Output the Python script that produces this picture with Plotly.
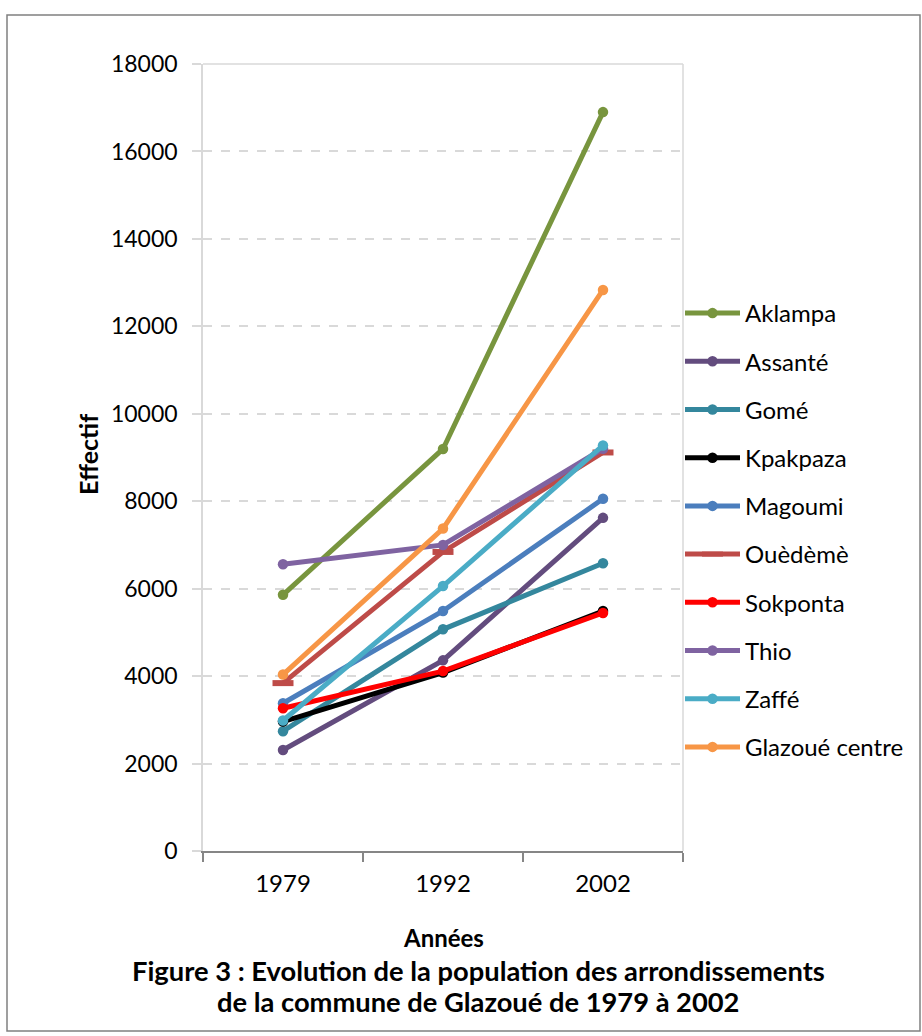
import plotly.graph_objects as go

W, H = 922, 1036

years = ["1979", "1992", "2002"]
series_names = ["Aklampa", "Assanté", "Gomé", "Kpakpaza", "Magoumi",
                "Ouèdèmè", "Sokponta", "Thio", "Zaffé", "Glazoué centre"]
aklampa = [5860, 9195, 16900]
assante = [2310, 4360, 7620]
gome = [2740, 5070, 6580]
kpakpaza = [2960, 4080, 5490]
magoumi = [3380, 5490, 8055]
ouedeme = [3840, 6840, 9115]
sokponta = [3265, 4115, 5445]
thio = [6560, 7000, 9200]
zaffe = [2985, 6060, 9275]
glazoue = [4035, 7375, 12832]
values = [aklampa, assante, gome, kpakpaza, magoumi,
          ouedeme, sokponta, thio, zaffe, glazoue]
colors = ["#78953E", "#634C7E", "#34879D", "#000000", "#4B7EBD",
          "#BE4B48", "#FF0000", "#7F63A1", "#4AACC6", "#F79646"]

FONT = "Lato, 'Open Sans', sans-serif"

def px(x):
    return x / W

def py(y):
    return 1 - y / H

fig = go.Figure()
for name, vals, col in zip(series_names, values, colors):
    if name == "Ouèdèmè":
        marker = dict(symbol="line-ew", size=15, color=col,
                      line=dict(width=6, color=col))
    else:
        marker = dict(symbol="circle", size=10.5, color=col)
    fig.add_trace(go.Scatter(
        x=years, y=vals, name=name, mode="lines+markers",
        line=dict(color=col, width=5), marker=marker,
        legendgroup=name,
    ))

fig.update_layout(
    width=W, height=H,
    margin=dict(l=0, r=0, t=0, b=0),
    paper_bgcolor="white", plot_bgcolor="white",
    font=dict(family=FONT, size=24, color="#000000"),
    showlegend=True,
    legend=dict(x=px(680), y=py(291), xanchor="left", yanchor="top",
                font=dict(family=FONT, size=24, color="#000000"),
                tracegroupgap=14, itemwidth=55,
                bgcolor="rgba(0,0,0,0)"),
    xaxis=dict(
        domain=[px(203), px(683)],
        type="category", range=[-0.5, 2.5], automargin=False,
        showline=True, linecolor="#868686", linewidth=1.5,
        ticks="outside", tickson="boundaries", ticklen=9,
        tickcolor="#868686", tickwidth=1.5,
        showgrid=False,
        tickfont=dict(family=FONT, size=24),
        ticklabelstandoff=10,
    ),
    yaxis=dict(
        domain=[py(851), py(64)], automargin=False,
        range=[0, 18000], dtick=2000, tickformat="d",
        showline=True, linecolor="#D9D9D9", linewidth=1.5,
        ticks="outside", ticklen=9, tickcolor="#D9D9D9", tickwidth=1.5,
        showgrid=True, gridcolor="#D9D9D9", griddash="dash", gridwidth=1.5,
        zeroline=False,
        tickfont=dict(family=FONT, size=23),
        ticklabelstandoff=10,
    ),
    shapes=[
        dict(type="rect", xref="paper", yref="paper",
             x0=px(7), x1=px(920), y0=py(1031), y1=py(15),
             line=dict(color="#808080", width=1.5), layer="below"),
        dict(type="line", xref="paper", yref="paper",
             x0=px(203), x1=px(683), y0=py(64), y1=py(64),
             line=dict(color="#D9D9D9", width=1.5), layer="below"),
        dict(type="line", xref="paper", yref="paper",
             x0=px(683), x1=px(683), y0=py(851), y1=py(64),
             line=dict(color="#D9D9D9", width=1.5), layer="below"),
    ],
    annotations=[
        dict(text="<b>Effectif</b>", x=px(88), y=py(455), xref="paper", yref="paper",
             textangle=-90, showarrow=False, font=dict(family=FONT, size=25),
             xanchor="center", yanchor="middle"),
        dict(text="<b>Années</b>", x=px(443), y=py(937), xref="paper", yref="paper",
             showarrow=False, font=dict(family=FONT, size=24),
             xanchor="center", yanchor="middle"),
        dict(text="<b>Figure 3 : Evolution de la population des arrondissements</b>",
             x=px(478), y=py(970), xref="paper", yref="paper",
             showarrow=False, font=dict(family=FONT, size=27.3),
             xanchor="center", yanchor="middle"),
        dict(text="<b>de la commune de Glazoué de 1979 à 2002</b>",
             x=px(478), y=py(1001), xref="paper", yref="paper",
             showarrow=False, font=dict(family=FONT, size=27.3),
             xanchor="center", yanchor="middle"),
    ],
)

fig.write_html("out.html")
